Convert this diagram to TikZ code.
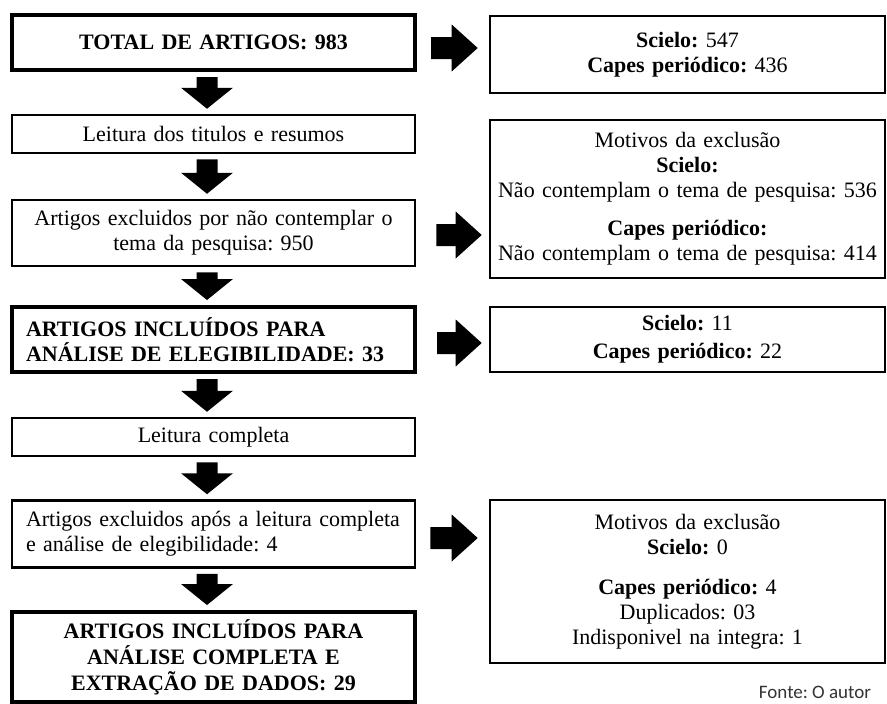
\documentclass[tikz,border=0pt]{standalone}
\usepackage{fontspec}
\setmainfont{Liberation Serif}
\newfontfamily\fontefont{Carlito}
\usetikzlibrary{calc}
\frenchspacing
\begin{document}
\begin{tikzpicture}[x=1pt,y=-1pt,
  txt/.style={font=\frenchspacing\fontsize{22}{25}\selectfont},
  lbox/.style={draw, line width=2.5pt, text width=375pt, inner xsep=14pt, inner ysep=0pt, align=center, txt},
  lthick/.style={lbox, line width=4pt},
  rbox/.style={draw, line width=2.6pt, text width=389pt, inner xsep=3pt, inner ysep=0pt, align=center, txt},
  darrow/.style={fill=black, draw=none, to path={let \p1=(\tikztostart), \p2=(\tikztotarget) in
     (\x1-10.5pt,\y1) -- (\x1+10.5pt,\y1) -- (\x1+10.5pt,\y2+21pt) -- (\x1+26pt,\y2+21pt) -- (\x1,\y2)
     -- (\x1-26pt,\y2+21pt) -- (\x1-10.5pt,\y2+21pt) -- cycle}},
  rarrow/.style={fill=black, draw=none, to path={let \p1=(\tikztostart), \p2=(\tikztotarget) in
     (\x1,\y1-11pt) -- (\x2-26pt,\y1-11pt) -- (\x2-26pt,\y1-23.5pt) -- (\x2,\y1) -- (\x2-26pt,\y1+23.5pt)
     -- (\x2-26pt,\y1+11pt) -- (\x1,\y1+11pt) -- cycle}},
  fonte/.style={font=\fontefont\fontsize{19}{22}\selectfont, text=black!80}]
\useasboundingbox (0,0) rectangle (887,704);
% left column
\node[lthick, minimum height=55pt] (l1) at (213.5,42.5) {\textbf{TOTAL DE ARTIGOS: 983}};
\node[lbox, minimum height=38pt] (l2) at (213.5,134) {Leitura dos titulos e resumos};
\node[lbox, minimum height=66pt] (l3) at (213.5,233) {Artigos excluidos por não contemplar o\\tema da pesquisa: 950};
\node[lthick, align=left, minimum height=65pt] (l4) at (213.5,339.5) {\textbf{ARTIGOS INCLUÍDOS PARA}\\\textbf{ANÁLISE DE ELEGIBILIDADE: 33}};
\node[lbox, minimum height=38pt] (l5) at (213.5,437) {Leitura completa};
\node[lbox, align=left, minimum height=67pt] (l6) at (213.5,534) {Artigos excluidos após a leitura completa\\e análise de elegibilidade: 4};
\node[lthick, minimum height=90pt] (l7) at (213.5,657) {\textbf{ARTIGOS INCLUÍDOS PARA}\\[1pt]\textbf{ANÁLISE COMPLETA E}\\[1pt]\textbf{EXTRAÇÃO DE DADOS: 29}};
% right column
\node[rbox, minimum height=77pt] (r1) at (687.5,54.5) {\textbf{Scielo:} 547\\\textbf{Capes periódico:} 436};
\node[rbox, minimum height=158pt] (r2) at (687.5,199) {Motivos da exclusão\\\textbf{Scielo:}\\Não contemplam o tema de pesquisa: 536\\[13pt]\textbf{Capes periódico:}\\Não contemplam o tema de pesquisa: 414};
\node[rbox, minimum height=65pt] (r3) at (687.5,339.5) {\textbf{Scielo:} 11\\[3pt]\textbf{Capes periódico:} 22};
\node[rbox, minimum height=163pt] (r4) at (687.5,581.5) {Motivos da exclusão\\\textbf{Scielo:} 0\\[15pt]\textbf{Capes periódico:} 4\\Duplicados: 03\\Indisponivel na integra: 1};
\node[fonte] (fonte) at (815,692) {Fonte: O autor};
% down arrows
\path[darrow] ($(l1.south)+(-6.5,5)$) to ($(l2.north)+(-6.5,-5)$);
\path[darrow] ($(l2.south)+(-6.5,5)$) to ($(l3.north)+(-6.5,-5)$);
\path[darrow] ($(l3.south)+(-6.5,5)$) to ($(l4.north)+(-6.5,-5)$);
\path[darrow] ($(l4.south)+(-6.5,5)$) to ($(l5.north)+(-6.5,-5)$);
\path[darrow] ($(l5.south)+(-6.5,5)$) to ($(l6.north)+(-6.5,-5)$);
\path[darrow] ($(l6.south)+(-6.5,5)$) to ($(l7.north)+(-6.5,-5)$);
% right arrows
\path[rarrow] ($(l1.east)+(14,5.5)$) to ($(l1.east -| r1.west)+(-11,5.5)$);
\path[rarrow] ($(l3.east)+(20,2)$) to ($(l3.east -| r2.west)+(-7,2)$);
\path[rarrow] ($(l4.east)+(20,3.5)$) to ($(l4.east -| r3.west)+(-7,3.5)$);
\path[rarrow] ($(l6.east)+(14,4)$) to ($(l6.east -| r4.west)+(-11,4)$);
\end{tikzpicture}
\end{document}
